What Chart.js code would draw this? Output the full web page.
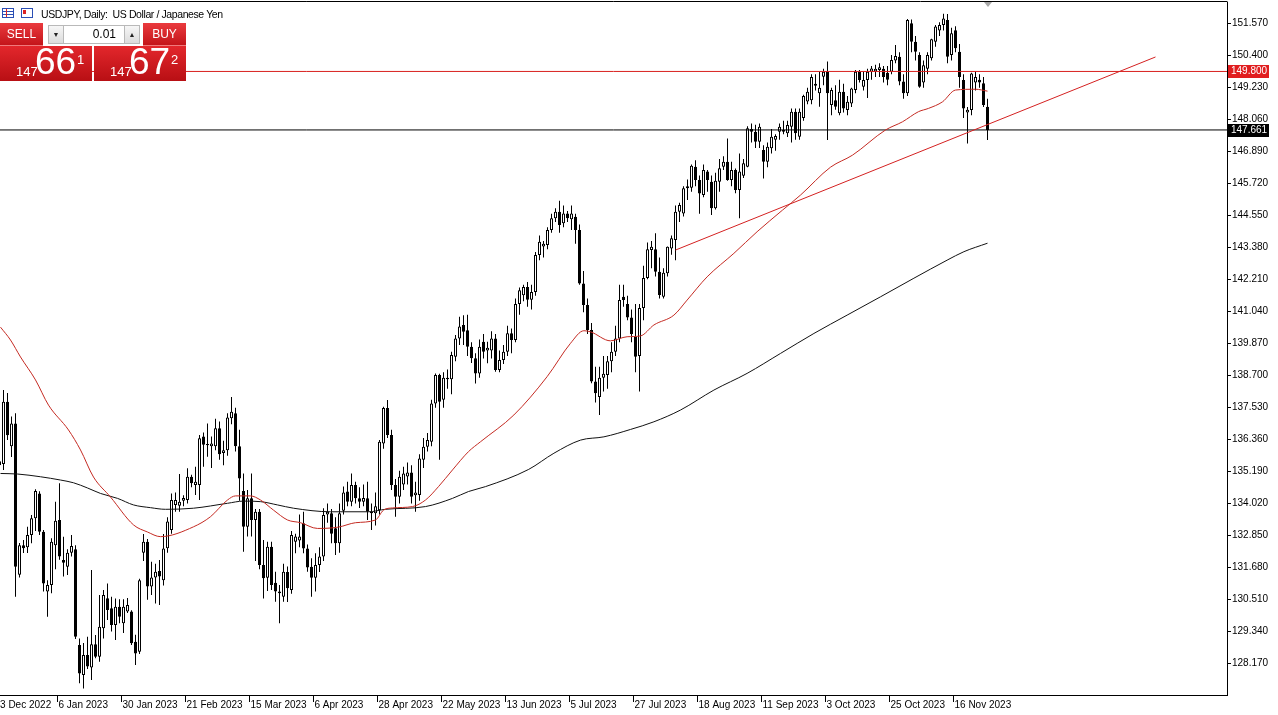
<!DOCTYPE html>
<html>
<head>
<meta charset="utf-8">
<title>USDJPY, Daily</title>
<script src="https://cdn.jsdelivr.net/npm/chart.js@4.4.1/dist/chart.umd.min.js"></script>
<style>
  html, body { margin: 0; padding: 0; background: #fff; }
  #wrap { position: relative; width: 1278px; height: 715px; overflow: hidden;
          font-family: "Liberation Sans", "DejaVu Sans", sans-serif; }
  #chart { position: absolute; left: 0; top: 0; }
  .abs { position: absolute; box-sizing: border-box; }
  #title { left: 41px; top: 8px; font-size: 10.5px; line-height: 12px; letter-spacing: -0.4px; color: #000; white-space: pre; }
  #ico1 { left: 2px; top: 8px; width: 12px; height: 10px; border: 1px solid #2b4fb5;
          background: repeating-linear-gradient(#fff 0 2px, #2b4fb5 2px 3px); }
  #ico1:before { content: ""; position: absolute; left: 3px; top: 0; width: 1px; height: 8px; background: #d22; }
  #ico2 { left: 21px; top: 8px; width: 12px; height: 10px; border: 1px solid #2b4fb5; background: #fff; }
  #ico2:before { content: ""; position: absolute; left: 1px; top: 1px; width: 3px; height: 4px; background: #d22; }
  .red { background: linear-gradient(#ea3a3e, #c4151a); color: #fff; text-align: center; }
  #sell { left: 0; top: 23px; width: 43px; height: 23px; font-size: 12px; line-height: 23px; border-bottom: 1px solid #f07a7c; }
  #buy  { left: 143px; top: 23px; width: 43px; height: 23px; font-size: 12px; line-height: 23px; border-bottom: 1px solid #f07a7c; }
  .btn { top: 25px; width: 16px; height: 19px; background: linear-gradient(#f6f6f6, #dcdcdc); border: 1px solid #b9b9b9;
         font-size: 7px; line-height: 17px; text-align: center; color: #222; }
  #down { left: 48px; }
  #up { left: 124px; }
  #lot { left: 64px; top: 25px; width: 60px; height: 19px; background: #fff; border-top: 1px solid #b9b9b9; border-bottom: 1px solid #b9b9b9;
         font-size: 12px; line-height: 17px; text-align: right; padding-right: 8px; color: #000; }
  .px { top: 46px; width: 92px; height: 35px; background: linear-gradient(#e3272c, #b80f14); color: #fff; }
  #sellPx { left: 0; }
  #buyPx { left: 94px; }
  .px span { position: absolute; line-height: 1; white-space: pre; }
  .px .s { font-size: 13px; top: 19px; left: 16px; }
  .px .b { font-size: 37px; top: -3px; left: 35px; }
  .px .u { font-size: 13px; top: 7px; left: 77px; }
</style>
</head>
<body>
<div id="wrap">
  <canvas id="chart" width="1278" height="715"></canvas>
  <div class="abs" id="ico1"></div>
  <div class="abs" id="ico2"></div>
  <div class="abs" id="title">USDJPY, Daily:  US Dollar / Japanese Yen</div>
  <div class="abs red" id="sell">SELL</div>
  <div class="abs btn" id="down">&#9660;</div>
  <div class="abs" id="lot">0.01</div>
  <div class="abs btn" id="up">&#9650;</div>
  <div class="abs red" id="buy">BUY</div>
  <div class="abs px" id="sellPx"><span class="s"></span><span class="b"></span><span class="u"></span></div>
  <div class="abs px" id="buyPx"><span class="s"></span><span class="b"></span><span class="u"></span></div>
</div>
<script>
// daily candles, first one is bar -1 (14 Dec 2022), last is bar 246 (28 Nov 2023)
const firstBar = -1;
const opens = [135.40,135.45,137.72,136.10,136.93,131.40,132.48,132.40,132.85,133.46,134.37,132.97,130.78,131.02,132.48,133.40,131.94,131.69,132.20,132.33,
  128.83,127.73,128.46,128.01,128.86,128.40,129.44,130.54,130.17,129.56,130.23,129.62,130.05,130.05,128.95,128.58,132.20,132.60,130.97,131.30,
  131.53,131.20,132.37,133.03,133.95,133.92,134.10,134.13,134.98,134.68,134.68,136.45,136.13,136.10,136.10,136.75,135.85,135.95,137.12,137.30,
  136.10,134.46,133.15,134.19,133.40,133.70,131.75,131.29,132.42,131.10,130.78,130.59,131.50,130.84,132.60,132.65,133.28,132.36,131.69,131.29,
  131.75,132.06,133.60,133.65,133.10,132.55,133.74,134.44,134.07,134.68,134.19,134.07,134.19,133.70,133.65,133.76,136.20,137.49,136.51,134.68,
  134.25,134.70,134.99,135.14,134.30,134.31,135.60,136.08,136.26,137.66,138.70,137.80,138.60,138.55,139.37,140.04,140.53,140.34,139.73,139.31,
  138.76,139.92,139.60,139.60,140.04,138.88,139.25,139.55,140.23,139.98,141.30,141.62,141.92,141.45,141.74,143.09,143.40,143.45,144.00,144.43,
  144.67,144.25,144.61,144.40,144.49,144.00,142.05,141.26,140.35,138.46,137.90,138.60,138.70,139.20,139.55,140.04,141.56,141.30,140.80,140.10,
  139.40,141.15,142.25,143.27,143.30,142.48,141.56,142.42,143.33,143.64,144.67,144.61,145.53,145.55,146.32,145.83,145.28,146.14,145.77,144.80,
  145.77,146.32,146.50,145.83,146.20,145.47,145.99,146.32,147.70,147.60,147.23,146.93,146.50,146.99,147.30,147.60,147.66,147.54,147.78,148.33,
  147.41,148.10,148.70,148.75,149.35,149.00,149.61,149.79,148.57,148.75,148.27,149.06,148.39,148.63,149.12,149.79,149.24,149.49,149.79,149.80,
  149.85,149.90,149.75,149.79,150.20,150.34,149.43,149.00,151.56,150.89,150.40,149.40,149.90,150.28,150.89,151.30,151.50,151.68,150.40,151.31,
  150.52,149.49,148.30,148.39,149.40,149.50,149.37,148.51];
const highs = [135.90,138.15,138.04,137.18,137.30,132.56,132.67,133.15,133.58,134.52,134.45,133.03,131.20,132.73,134.07,134.74,132.79,132.33,132.85,132.48,
  129.07,128.90,129.13,131.57,129.19,130.66,130.84,131.08,130.59,130.53,130.50,130.50,130.55,130.10,129.20,131.25,132.89,132.70,131.87,131.80,
  131.94,132.89,133.50,134.37,134.40,135.08,134.30,135.29,135.05,135.35,136.51,136.60,136.93,136.45,137.10,137.00,136.30,137.30,137.90,137.50,
  136.70,135.10,134.50,135.10,133.80,133.80,132.67,132.60,132.60,131.51,131.02,131.80,131.70,133.00,132.90,133.60,133.70,132.50,132.00,132.18,
  132.40,133.83,134.00,133.80,133.50,134.00,134.62,134.80,135.10,134.80,134.60,134.70,134.80,134.00,134.40,136.32,137.54,137.79,136.70,134.90,
  135.20,135.35,135.50,135.40,134.80,135.80,136.40,136.58,137.80,138.76,138.75,138.80,138.90,139.55,140.16,140.83,140.89,140.90,139.90,139.50,
  140.00,140.20,139.92,140.30,140.20,139.60,139.80,140.50,140.40,141.50,141.90,142.00,142.10,142.00,143.20,143.80,143.60,144.10,144.60,144.80,
  145.07,144.90,144.70,144.90,144.60,144.20,142.50,141.50,140.60,139.00,139.00,139.40,139.40,139.90,140.50,142.00,142.00,141.60,141.10,141.30,
  141.30,142.70,143.55,143.60,143.88,143.00,142.60,143.40,143.80,144.90,145.00,145.60,145.85,146.40,146.55,146.00,146.40,146.20,146.00,146.10,
  146.60,146.70,147.35,146.50,146.25,146.80,146.60,147.80,147.90,147.85,147.90,147.10,147.20,147.70,147.50,147.90,148.00,148.00,148.45,148.45,
  148.45,148.95,149.20,149.70,149.70,149.79,149.90,150.16,149.20,149.30,149.50,149.35,148.90,149.20,149.85,149.85,149.80,149.90,150.00,150.05,
  150.10,150.00,150.00,150.40,150.77,150.50,149.70,151.72,151.70,151.10,150.50,150.20,150.50,151.00,151.50,151.60,151.91,151.90,151.40,151.45,
  150.80,149.70,148.50,149.75,149.80,149.70,149.60,148.80];
const lows = [134.90,135.23,136.32,135.70,130.59,131.30,132.19,132.19,132.55,133.00,132.85,130.78,129.86,130.72,131.60,131.95,131.33,131.39,132.06,129.05,
  127.43,127.24,127.95,127.55,128.34,128.22,129.07,129.74,129.32,129.01,129.62,129.27,130.00,128.83,128.10,128.50,131.90,130.48,130.66,130.35,
  130.29,131.00,132.20,132.90,133.70,133.70,133.90,134.00,134.60,134.31,134.13,135.35,135.71,135.30,135.95,135.60,135.40,135.75,136.90,135.90,
  134.10,132.24,132.80,132.80,131.90,131.60,130.53,130.80,130.84,130.41,129.62,130.41,130.40,130.70,132.18,132.40,132.18,131.51,130.59,130.78,
  131.50,131.90,133.30,132.55,132.12,132.20,133.60,133.90,133.90,134.00,133.84,133.90,133.40,133.03,133.20,133.60,136.00,136.40,134.50,133.52,
  134.00,134.50,134.70,134.00,133.70,134.10,135.30,135.90,136.10,137.50,135.60,137.50,138.20,138.00,139.20,139.80,139.80,139.40,139.14,138.39,
  138.60,139.30,139.13,139.30,138.82,138.80,139.10,139.40,139.50,139.90,140.90,141.40,141.20,141.10,141.60,142.90,143.00,143.30,143.90,144.30,
  143.90,144.10,144.30,144.00,143.50,142.00,141.00,140.20,138.40,137.70,137.24,138.10,138.20,138.80,139.40,139.90,141.20,140.70,139.90,138.80,
  138.10,140.70,142.20,142.60,142.30,141.50,141.50,142.30,143.10,142.90,144.30,144.50,145.10,145.40,145.60,144.60,145.20,145.40,144.55,144.75,
  145.40,146.20,145.80,145.60,145.35,144.43,145.90,146.30,147.20,147.00,147.00,145.89,146.30,146.80,146.90,147.30,147.50,147.40,147.20,147.30,
  147.30,148.00,148.60,148.60,149.10,148.51,149.30,147.29,148.20,148.40,148.20,148.30,148.20,148.50,149.00,149.40,149.10,148.83,149.50,149.60,
  149.60,149.40,149.30,149.70,150.10,149.30,148.80,148.90,150.50,150.20,149.20,149.20,149.70,150.20,150.70,151.10,151.30,150.10,150.20,150.50,
  149.20,148.10,147.17,148.20,149.10,149.20,148.50,147.29];
const closes = [135.55,137.72,136.50,136.93,131.69,132.48,132.37,132.85,133.46,134.46,132.97,131.08,131.02,132.60,133.37,132.06,131.84,132.20,132.45,129.13,
  127.79,128.46,128.04,128.86,128.40,129.50,130.66,130.11,129.56,130.23,129.86,130.23,130.29,128.89,128.52,131.20,132.60,130.97,131.30,131.51,
  131.33,132.36,133.34,134.13,134.13,134.07,134.20,134.98,134.74,134.80,136.39,136.15,136.18,136.20,136.75,135.80,135.95,137.15,137.36,136.10,
  134.92,133.15,134.19,133.40,133.70,131.75,131.27,132.42,131.02,130.78,130.72,131.51,130.90,132.85,132.80,132.80,132.36,131.66,131.29,131.75,
  132.06,133.58,133.70,132.90,132.55,133.65,134.40,134.07,134.68,134.19,134.07,134.20,133.70,133.65,133.90,136.26,137.49,136.51,134.68,134.25,
  134.98,135.10,135.14,134.25,134.40,135.65,136.08,136.32,137.66,138.70,137.72,138.60,138.55,139.43,140.04,140.47,140.28,139.73,139.31,138.76,
  139.73,139.55,139.70,140.04,138.88,139.25,139.55,140.23,139.98,141.30,141.80,141.92,141.45,141.74,143.09,143.57,143.50,144.00,144.43,144.67,
  144.19,144.61,144.43,144.61,144.00,142.05,141.26,140.35,138.46,138.03,138.60,138.75,139.20,139.55,140.04,141.44,141.44,140.80,140.20,139.37,
  141.15,142.25,143.30,143.39,142.48,141.63,142.44,143.39,143.70,144.67,144.92,145.53,145.60,146.35,145.83,145.34,146.20,145.83,144.80,145.80,
  146.26,146.50,145.83,146.20,145.47,146.14,146.44,147.72,147.60,147.23,147.78,146.50,147.05,147.41,147.44,147.78,147.60,147.84,148.33,147.54,
  148.33,148.90,149.06,149.60,149.28,149.20,149.79,149.00,149.12,148.51,149.06,148.45,148.69,149.18,149.79,149.49,149.49,149.79,149.91,149.90,
  149.95,149.60,149.50,150.22,150.37,149.43,149.00,151.68,150.89,150.52,149.24,150.03,150.40,150.98,151.44,151.50,151.74,150.34,151.20,150.65,
  149.60,148.45,148.40,149.73,149.60,149.40,148.57,147.66];

// moving averages: bar index / price
const maFastBars = [-0.75,1.75,4.25,8,11.25,16.25,19.25,22.5,26.75,32.5,36,39.25,47.5,51.75,56,58,61.75,64.25,67.5,71,74.25,78.5,83.75,88,93,95,97.25,
  102.25,105.5,108.75,112.25,116.25,119.25,127.6,135.9,141.75,145.1,146.75,151.75,155.9,159.25,162.6,167.6,170.9,175.9,182.6,188.4,194.75,199.25,
  206.75,212.25,220.5,224.75,228.75,231.25,234.75,238,243,246];
const maFastVals = [140.45,139.98,139.36,138.52,137.60,136.69,135.96,134.97,134.24,133.22,132.96,132.79,133.15,133.52,134.13,134.28,134.28,134.13,133.76,
  133.40,133.30,133.09,133.14,133.30,133.40,133.76,133.84,133.89,134.13,134.62,135.23,135.90,136.26,137.24,138.64,139.86,140.32,140.28,139.95,140.10,
  140.13,140.53,140.89,141.44,142.29,143.15,143.94,144.73,145.28,146.30,146.74,147.66,147.96,148.33,148.45,148.69,149.12,149.15,149.08];
const maSlowBars = [-0.75,3.5,9.25,14.25,17.5,21,24.25,28.5,32.5,36.75,40.5,47.5,56,60,64.25,68.5,72.5,81.75,91.25,95.5,105.5,112.25,116.25,120.5,
  131.3,137.6,144.25,150.1,156.75,162.6,169.25,177.6,185.9,194.25,202.6,210.9,219.25,227.6,235.9,240.1,246];
const maSlowVals = [135.10,135.08,134.98,134.86,134.76,134.57,134.37,134.19,133.95,133.85,133.79,133.83,134.01,134.09,134.07,133.95,133.83,133.70,133.70,
  133.79,133.89,134.19,134.44,134.62,135.25,135.84,136.32,136.44,136.71,136.99,137.42,138.15,138.76,139.49,140.22,140.89,141.56,142.24,142.90,143.21,143.52];

// trend line drawn on the chart (bar index / price at its two ends)
const trendBars = [168, 288];
const trendVals = [143.27, 150.33];

// horizontal levels and quotes
const levelRed = 149.800;
const bid = 147.661;
const ask = 147.672;

// axis ticks
const tickBars = [-2, 14, 30, 46, 62, 78, 94, 110, 126, 142, 158, 174, 190, 206, 222, 238];
const tickDates = ['13 Dec 2022', '6 Jan 2023', '30 Jan 2023', '21 Feb 2023', '15 Mar 2023', '6 Apr 2023', '28 Apr 2023', '22 May 2023',
  '13 Jun 2023', '5 Jul 2023', '27 Jul 2023', '18 Aug 2023', '11 Sep 2023', '3 Oct 2023', '25 Oct 2023', '16 Nov 2023'];
const priceTicks = [128.17, 129.34, 130.51, 131.68, 132.85, 134.02, 135.19, 136.36, 137.53, 138.70, 139.87,
  141.04, 142.21, 143.38, 144.55, 145.72, 146.89, 148.06, 149.23, 150.40, 151.57];

const xMin = -0.875, xMax = 305.875;
const yMin = 127.0, yMax = 152.34;
const FONT = '"Liberation Sans", "DejaVu Sans", sans-serif';

// one-click panel quotes
function fillQuote(id, v) {
  const s = v.toFixed(3);
  const el = document.getElementById(id);
  el.querySelector('.s').textContent = s.slice(0, 3);
  el.querySelector('.b').textContent = s.slice(4, 6);
  el.querySelector('.u').textContent = s.slice(6);
}
fillQuote('sellPx', bid);
fillQuote('buyPx', ask);

const barIdx = opens.map((_, k) => k + firstBar);
const bodies = barIdx.map((x, k) => ({ x, y: [Math.min(opens[k], closes[k]), Math.max(opens[k], closes[k])] }));
const wicks = barIdx.map((x, k) => ({ x, y: [lows[k], highs[k]] }));
const bodyFill = opens.map((o, k) => closes[k] >= o ? '#ffffff' : '#000000');

const extras = {
  id: 'extras',
  afterDraw(chart) {
    const { ctx, chartArea: a, scales } = chart;
    ctx.save();
    // top frame line
    ctx.strokeStyle = '#000';
    ctx.lineWidth = 1;
    ctx.beginPath();
    ctx.moveTo(0, a.top - 0.5);
    ctx.lineTo(a.right + 0.5, a.top - 0.5);
    ctx.stroke();
    // shift marker
    const mx = Math.round(scales.x.getPixelForValue(barIdx[barIdx.length - 1]));
    ctx.fillStyle = '#a8a8a8';
    ctx.beginPath();
    ctx.moveTo(mx - 4, a.top);
    ctx.lineTo(mx + 4, a.top);
    ctx.lineTo(mx, a.top + 5);
    ctx.closePath();
    ctx.fill();
    // price tags on the axis
    ctx.font = '10px ' + FONT;
    ctx.textBaseline = 'middle';
    [[levelRed, '#e11d1f'], [bid, '#000000']].forEach(([v, bg]) => {
      const y = Math.round(scales.y.getPixelForValue(v));
      ctx.fillStyle = bg;
      ctx.fillRect(a.right + 1, y - 6, 41, 13);
      ctx.fillStyle = '#fff';
      ctx.fillText(v.toFixed(3), a.right + 4, y + 0.5);
    });
    ctx.restore();
  }
};

new Chart(document.getElementById('chart'), {
  type: 'bar',
  data: {
    datasets: [
      { type: 'line', data: maFastBars.map((x, k) => ({ x, y: maFastVals[k] })), borderColor: '#c42a22', borderWidth: 1,
        pointRadius: 0, cubicInterpolationMode: 'monotone', order: 0 },
      { type: 'line', data: maSlowBars.map((x, k) => ({ x, y: maSlowVals[k] })), borderColor: '#111111', borderWidth: 1,
        pointRadius: 0, cubicInterpolationMode: 'monotone', order: 0 },
      { type: 'line', data: trendBars.map((x, k) => ({ x, y: trendVals[k] })), borderColor: '#d42020', borderWidth: 1,
        pointRadius: 0, order: 0 },
      { type: 'line', data: [{ x: xMin, y: levelRed }, { x: xMax, y: levelRed }], borderColor: '#d8201e', borderWidth: 1,
        pointRadius: 0, order: 0 },
      { type: 'line', data: [{ x: xMin, y: bid }, { x: xMax, y: bid }], borderColor: '#000000', borderWidth: 1,
        pointRadius: 0, order: 0 },
      { label: 'body', data: bodies, backgroundColor: bodyFill, borderColor: '#000', borderWidth: 1, borderSkipped: false,
        barThickness: 3, grouped: false, inflateAmount: 0, minBarLength: 1, order: 1 },
      { label: 'wick', data: wicks, backgroundColor: '#000', borderWidth: 0, barThickness: 1, grouped: false,
        inflateAmount: 0, order: 2 }
    ]
  },
  options: {
    responsive: false,
    animation: false,
    events: [],
    layout: { padding: { top: 2, left: 0, right: 0, bottom: 0 } },
    plugins: { legend: { display: false }, tooltip: { enabled: false } },
    scales: {
      x: {
        type: 'linear', min: xMin, max: xMax, offset: false, bounds: 'data',
        grid: { drawOnChartArea: false, drawTicks: true, tickLength: 7, color: '#000', offset: false },
        border: { display: true, color: '#000' },
        ticks: { autoSkip: false, maxRotation: 0, minRotation: 0, align: 'start', labelOffset: 1, padding: -3,
                 color: '#000', font: { family: FONT, size: 10 }, callback: (v, k) => tickDates[k] },
        // date marks sit on the left edge of their bar
        afterBuildTicks: s => { s.ticks = tickBars.map(v => ({ value: v - 0.5 })); },
        afterFit: s => { s.height = 20; s.paddingLeft = 0; s.paddingRight = 0; }
      },
      y: {
        position: 'right', min: yMin, max: yMax, bounds: 'data',
        grid: { drawOnChartArea: false, drawTicks: true, tickLength: 4, color: '#000' },
        border: { display: true, color: '#000' },
        ticks: { autoSkip: false, padding: 1, color: '#000', font: { family: FONT, size: 10 }, callback: v => v.toFixed(3) },
        afterBuildTicks: s => { s.ticks = priceTicks.map(v => ({ value: v })); },
        afterFit: s => { s.width = 51; s.paddingTop = 0; s.paddingBottom = 0; }
      }
    }
  },
  plugins: [extras]
});
</script>
</body>
</html>
